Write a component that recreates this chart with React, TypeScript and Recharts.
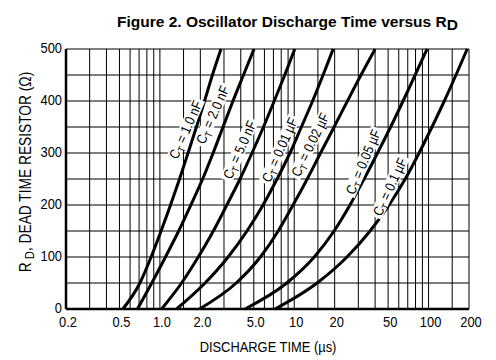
import { CartesianGrid, Line, LineChart, XAxis, YAxis } from "recharts";

const SANS = "'Liberation Sans', Arial, sans-serif";
// no narrow face installed, so narrow text is squeezed horizontally
const SQUEEZE = 0.86;

// dead time resistor values, ohms
const resistance = [0, 50, 100, 150, 200, 250, 300, 350, 400, 450, 500];

// discharge time (us) at each resistance, per timing capacitor
const t1nF = [0.53, 0.71, 0.86, 1.02, 1.2, 1.4, 1.62, 1.87, 2.15, 2.46, 2.85];
const t2nF = [0.68, 0.87, 1.1, 1.38, 1.7, 2.08, 2.49, 2.95, 3.5, 4.19, 5.02];
const t5nF = [1.03, 1.45, 1.93, 2.5, 3.15, 3.95, 4.85, 5.9, 7.1, 8.5, 10.1];
const t10nF = [1.33, 2.17, 3.22, 4.45, 5.86, 7.45, 9.3, 11.3, 13.7, 16.4, 19.5];
const t20nF = [1.97, 3.7, 5.6, 7.6, 9.8, 12.5, 15.7, 19.8, 24.9, 31.4, 40];
const t50nF = [4.3, 8.8, 14.1, 19.8, 26, 33.1, 41.7, 52.2, 64.6, 79.4, 97.5];
const t100nF = [7.2, 14.8, 24.7, 36.7, 50.8, 67, 85, 106, 131, 160, 194];

const xGrid = [
  0.2, 0.3, 0.4, 0.5, 0.6, 0.7, 0.8, 0.9, 1, 1.5, 2, 3, 4, 5, 6, 7, 8, 9, 10, 15, 20, 30, 40, 50,
  60, 70, 80, 90, 100, 150, 200,
];
const xLabels: Record<number, string> = {
  0.2: "0.2", 0.5: "0.5", 1: "1.0", 2: "2.0", 5: "5.0", 10: "10", 20: "20", 50: "50", 100: "100", 200: "200",
};
const yGrid = [0, 50, 100, 150, 200, 250, 300, 350, 400, 450, 500];

const series = [
  { id: "c1", times: t1nF, label: "1.0 nF", at: 7, dx: -10.5, dy: 3, angle: -66 },
  { id: "c2", times: t2nF, label: "2.0 nF", at: 7, dx: -10, dy: -12, angle: -66 },
  { id: "c3", times: t5nF, label: "5.0 nF", at: 6, dx: -12, dy: -3, angle: -66 },
  { id: "c4", times: t10nF, label: "0.01 µF", at: 6, dx: -10, dy: -3, angle: -66 },
  { id: "c5", times: t20nF, label: "0.02 µF", at: 6, dx: -10, dy: -8, angle: -64 },
  { id: "c6", times: t50nF, label: "0.05 µF", at: 6, dx: -14, dy: 9, angle: -67 },
  { id: "c7", times: t100nF, label: "0.1 µF", at: 5, dx: -15, dy: 8, angle: -65 },
];

function curveLabel(s: (typeof series)[number]) {
  return (props: any) => {
    if (props.index !== s.at) return null;
    const w = (s.label.length + 4.5) * 6.4;
    return (
      <g transform={`translate(${props.x + s.dx},${props.y + s.dy}) rotate(${s.angle})`}>
        <rect x={-w / 2} y={-7} width={w} height={13} fill="#fff" />
        <g transform={`scale(${SQUEEZE},1)`}>
          <text textAnchor="middle" y={4.5} fontSize={14} fontFamily={SANS} fill="#000">
            C<tspan fontSize={10} dy={3}>T</tspan>
            <tspan dy={-3}> = {s.label}</tspan>
          </text>
        </g>
      </g>
    );
  };
}

function XTick(props: any) {
  const label = xLabels[props.payload.value];
  if (!label) return null;
  return (
    <text
      transform={`translate(${props.x + 2},${props.y + 12}) scale(${SQUEEZE},1)`}
      textAnchor="middle"
      fontSize={15}
      fontFamily={SANS}
      fill="#000"
    >
      {label}
    </text>
  );
}

function YTick(props: any) {
  const v = props.payload.value;
  if (v % 100 !== 0) return null;
  return (
    <text
      transform={`translate(${props.x},${props.y + 4}) scale(${SQUEEZE},1)`}
      textAnchor="end"
      fontSize={15}
      fontFamily={SANS}
      fill="#000"
    >
      {v}
    </text>
  );
}

export default function App() {
  return (
    <div style={{ position: "relative", width: 496, height: 360, background: "#fff" }}>
      <style>{"body{margin:0}"}</style>
      <LineChart width={496} height={360} margin={{ top: 49, right: 27, bottom: 21, left: 6 }}>
        <CartesianGrid stroke="#000" strokeWidth={1} />
        <XAxis
          type="number"
          dataKey="t"
          scale="log"
          domain={[0.2, 200]}
          allowDataOverflow
          ticks={xGrid}
          interval={0}
          tickLine={false}
          tickSize={0}
          tickMargin={6}
          height={30}
          axisLine={{ stroke: "#000", strokeWidth: 2.5 }}
          tick={<XTick />}
        />
        <YAxis
          type="number"
          dataKey="r"
          domain={[0, 500]}
          ticks={yGrid}
          interval={0}
          tickLine={false}
          tickSize={0}
          tickMargin={4}
          width={60}
          axisLine={{ stroke: "#000", strokeWidth: 2.5 }}
          tick={<YTick />}
        />
        {series.map((s) => (
          <Line
            key={s.id}
            data={s.times.map((t, i) => ({ t, r: resistance[i] }))}
            dataKey="r"
            type="monotone"
            stroke="#000"
            strokeWidth={3}
            dot={false}
            activeDot={false}
            isAnimationActive={false}
            label={curveLabel(s)}
          />
        ))}
      </LineChart>
      <svg width={496} height={360} style={{ position: "absolute", left: 0, top: 0, pointerEvents: "none" }}>
        <text x={117} y={26.5} fontFamily={SANS} fontWeight="bold" fontSize={15.5} fill="#000">
          Figure 2. Oscillator Discharge Time versus R
          <tspan dy={3}>D</tspan>
        </text>
        <text
          transform={`translate(268,352) scale(${SQUEEZE},1)`}
          textAnchor="middle"
          fontFamily={SANS}
          fontSize={15}
          fill="#000"
        >
          DISCHARGE TIME (µs)
        </text>
        <text
          transform={`translate(31,172) rotate(-90) scale(${SQUEEZE},1)`}
          textAnchor="middle"
          fontFamily={SANS}
          fontSize={16}
          fill="#000"
        >
          R<tspan fontSize={13} dy={3}> D</tspan>
          <tspan dy={-3}>, DEAD TIME RESISTOR (Ω)</tspan>
        </text>
      </svg>
    </div>
  );
}
